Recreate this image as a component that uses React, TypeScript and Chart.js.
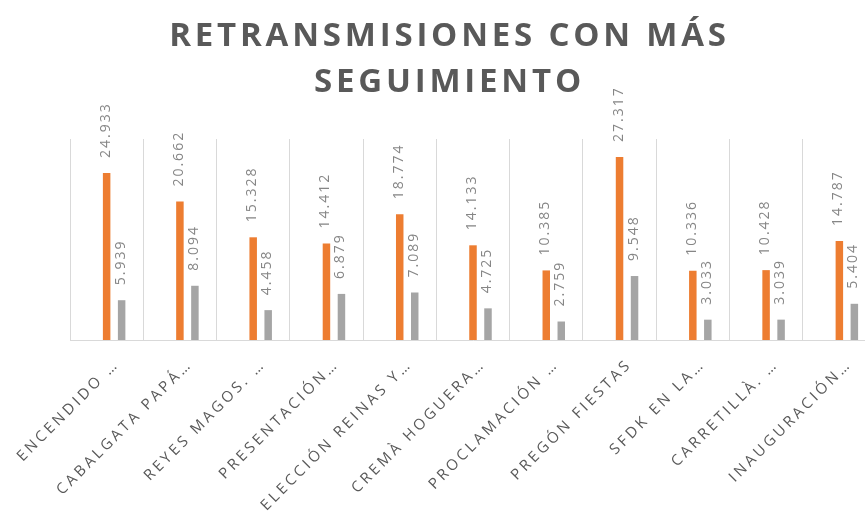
import React, { useEffect, useRef } from "react";
import { Chart, registerables } from "chart.js";

Chart.register(...registerables);

const TITLE_LINES = ["RETRANSMISIONES CON MÁS", "SEGUIMIENTO"];
const CATEGORIES = [
  "ENCENDIDO …",
  "CABALGATA PAPÁ…",
  "REYES MAGOS. …",
  "PRESENTACIÓN…",
  "ELECCIÓN REINAS Y…",
  "CREMÀ HOGUERA…",
  "PROCLAMACIÓN …",
  "PREGÓN FIESTAS",
  "SFDK EN LA…",
  "CARRETILLÀ. …",
  "INAUGURACIÓN…",
];
const SERIES_A = [24.933, 20.662, 15.328, 14.412, 18.774, 14.133, 10.385, 27.317, 10.336, 10.428, 14.787];
const SERIES_B = [5.939, 8.094, 4.458, 6.879, 7.089, 4.725, 2.759, 9.548, 3.033, 3.039, 5.404];
const SPACER = CATEGORIES.map(() => null);
const Y_MIN = 0;
const Y_MAX = 30;

const CANVAS_W = 895;
const CANVAS_H = 517;

const overlayPlugin = {
  id: "overlay",
  afterDraw(chart: any) {
    const ctx: CanvasRenderingContext2D = chart.ctx;
    const xs = chart.scales.x;

    // Title
    ctx.save();
    ctx.fillStyle = "#595959";
    ctx.font = "bold 33px 'Open Sans'";
    (ctx as any).letterSpacing = "3.8px";
    ctx.textAlign = "center";
    ctx.textBaseline = "middle";
    ctx.fillText(TITLE_LINES[0], CANVAS_W / 2 + 2, 37);
    ctx.fillText(TITLE_LINES[1], CANVAS_W / 2 + 2, 83);
    ctx.restore();

    // Data labels
    [1, 2].forEach((di) => {
      const meta = chart.getDatasetMeta(di);
      const values = chart.data.datasets[di].data;
      meta.data.forEach((bar: any, j: number) => {
        const v = values[j];
        if (v == null) return;
        ctx.save();
        ctx.fillStyle = "#868686";
        ctx.font = "14px 'Open Sans'";
        (ctx as any).letterSpacing = "2px";
        ctx.translate(bar.x - 1, bar.y - 15);
        ctx.rotate(-Math.PI / 2);
        ctx.textAlign = "left";
        ctx.textBaseline = "middle";
        ctx.fillText(Number(v).toFixed(3), 0, 0);
        ctx.restore();
      });
    });

    // Category labels
    CATEGORIES.forEach((label, i) => {
      const x = xs.getPixelForValue(i) + 10;
      ctx.save();
      ctx.fillStyle = "#595959";
      ctx.font = "15px 'Open Sans'";
      (ctx as any).letterSpacing = "3.2px";
      ctx.translate(x, 362);
      ctx.rotate(-Math.PI / 4);
      ctx.textAlign = "right";
      ctx.textBaseline = "middle";
      ctx.fillText(label, 0, 0);
      ctx.restore();
    });
  },
};

export default function App() {
  const ref = useRef<HTMLCanvasElement | null>(null);

  useEffect(() => {
    if (!ref.current) return;
    const chart = new Chart(ref.current, {
      type: "bar",
      data: {
        labels: CATEGORIES,
        datasets: [
          { label: "spacer", data: SPACER as any, backgroundColor: "rgba(0,0,0,0)" },
          { label: "A", data: SERIES_A, backgroundColor: "#ED7D31" },
          { label: "B", data: SERIES_B, backgroundColor: "#A5A5A5" },
        ],
      },
      options: {
        animation: false,
        responsive: false,
        devicePixelRatio: 1,
        layout: { padding: { left: 70, right: 19, top: 139, bottom: 177 } },
        datasets: {
          bar: { categoryPercentage: 0.614, barPercentage: 0.5 },
        },
        plugins: {
          legend: { display: false },
          title: { display: false },
          tooltip: { enabled: false },
        },
        scales: {
          x: {
            offset: true,
            ticks: { display: false },
            grid: {
              display: true,
              offset: true,
              color: "#d9d9d9",
              lineWidth: 1,
              drawTicks: false,
            },
            border: { display: true, color: "#d9d9d9", width: 1 },
          },
          y: {
            display: false,
            min: Y_MIN,
            max: Y_MAX,
          },
        },
      },
      plugins: [overlayPlugin],
    });
    return () => chart.destroy();
  }, []);

  return (
    <div
      style={{
        position: "fixed",
        left: 0,
        top: 0,
        width: 865,
        height: 517,
        overflow: "hidden",
        background: "#fff",
      }}
    >
      <canvas
        ref={ref}
        width={CANVAS_W}
        height={CANVAS_H}
        style={{ display: "block", width: CANVAS_W, height: CANVAS_H }}
      />
    </div>
  );
}
